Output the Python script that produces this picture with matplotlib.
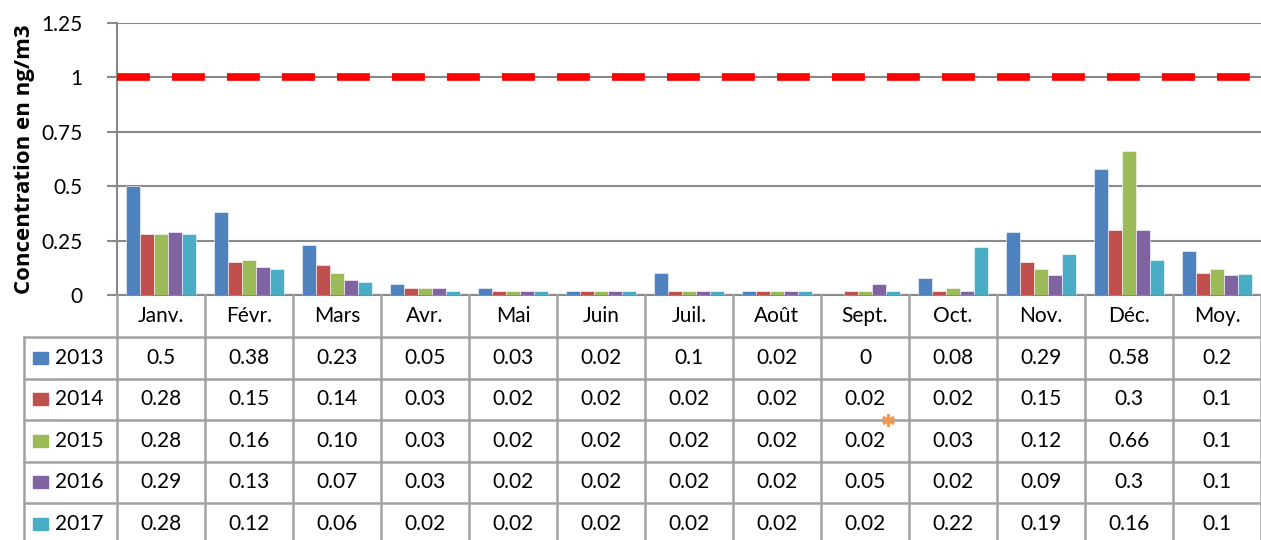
import numpy as np
import matplotlib.pyplot as plt

months = ["Janv.", "Févr.", "Mars", "Avr.", "Mai", "Juin", "Juil.", "Août",
          "Sept.", "Oct.", "Nov.", "Déc.", "Moy."]
years = ["2013", "2014", "2015", "2016", "2017"]

v2013 = [0.5, 0.38, 0.23, 0.05, 0.03, 0.02, 0.1, 0.02, 0, 0.08, 0.29, 0.58, 0.2]
v2014 = [0.28, 0.15, 0.14, 0.03, 0.02, 0.02, 0.02, 0.02, 0.02, 0.02, 0.15, 0.3, 0.1]
v2015 = [0.28, 0.16, 0.10, 0.03, 0.02, 0.02, 0.02, 0.02, 0.02, 0.03, 0.12, 0.66, 0.12]
v2016 = [0.29, 0.13, 0.07, 0.03, 0.02, 0.02, 0.02, 0.02, 0.05, 0.02, 0.09, 0.3, 0.09]
v2017 = [0.28, 0.12, 0.06, 0.02, 0.02, 0.02, 0.02, 0.02, 0.02, 0.22, 0.19, 0.16, 0.095]

# table text as printed in the chart
t2013 = ["0.5", "0.38", "0.23", "0.05", "0.03", "0.02", "0.1", "0.02", "0", "0.08", "0.29", "0.58", "0.2"]
t2014 = ["0.28", "0.15", "0.14", "0.03", "0.02", "0.02", "0.02", "0.02", "0.02", "0.02", "0.15", "0.3", "0.1"]
t2015 = ["0.28", "0.16", "0.10", "0.03", "0.02", "0.02", "0.02", "0.02", "0.02", "0.03", "0.12", "0.66", "0.1"]
t2016 = ["0.29", "0.13", "0.07", "0.03", "0.02", "0.02", "0.02", "0.02", "0.05", "0.02", "0.09", "0.3", "0.1"]
t2017 = ["0.28", "0.12", "0.06", "0.02", "0.02", "0.02", "0.02", "0.02", "0.02", "0.22", "0.19", "0.16", "0.1"]

limit = 1.0

values = [v2013, v2014, v2015, v2016, v2017]
texts = [t2013, t2014, t2015, t2016, t2017]
colors = ["#4F81BD", "#C0504D", "#9BBB59", "#8064A2", "#4BACC6"]

plt.rcParams['font.family'] = ['Lato', 'DejaVu Sans']

W, H = 1261, 540
fig = plt.figure(figsize=(W / 100, H / 100), dpi=100)

# layout in pixels
x0, x1 = 117, 1261
ytop, ybot = 23, 295
head_h = 42
row_h = 41.5
lab_x = 24
grid_c = "#898989"
tab_c = "#A3A3A3"
fs = 15

ax = fig.add_axes([x0 / W, 1 - ybot / H, (x1 - x0) / W, (ybot - ytop) / H])
n = len(months)
x = np.arange(n)
bw = 0.16
for k, (vals, c) in enumerate(zip(values, colors)):
    ax.bar(x + (k - 2) * bw, vals, bw, color=c, edgecolor="white", linewidth=0.4, zorder=3)
ax.axhline(limit, color="#FF0000", lw=5.5, dashes=(4.3, 2.9), zorder=4)
ax.set_xlim(-0.5, n - 0.5)
ax.set_ylim(0, 1.25)
ax.set_yticks([0, 0.25, 0.5, 0.75, 1, 1.25])
ax.set_yticklabels(["0", "0.25", "0.5", "0.75", "1", "1.25"], fontsize=fs)
ax.set_xticks([])
ax.yaxis.grid(True, color=grid_c, lw=1.5, zorder=0)
for s in ["top", "right"]:
    ax.spines[s].set_visible(False)
ax.spines["left"].set_color(grid_c)
ax.spines["bottom"].set_color(grid_c)
ax.spines["left"].set_linewidth(1.5)
ax.spines["bottom"].set_linewidth(1.5)
ax.tick_params(axis="y", length=7, width=1.5, color=grid_c, pad=18)
ax.set_ylabel("Concentration en ng/m3", fontsize=16, fontweight="bold",
              family=["Open Sans", "DejaVu Sans"], labelpad=4)

# data table
tx = fig.add_axes([0, 0, 1, 1])
tx.set_xlim(0, W)
tx.set_ylim(H, 0)
tx.axis("off")
cw = (x1 - x0) / n
y_head = ybot + head_h
y_end = y_head + row_h * len(years)
lw = 1.8
for i in range(n + 1):
    tx.plot([x0 + i * cw] * 2, [ybot, y_end], color=tab_c, lw=lw)
for i, m in enumerate(months):
    tx.text(x0 + (i + 0.5) * cw, ybot + head_h / 2, m, ha="center", va="center", fontsize=fs)
tx.plot([lab_x, lab_x], [y_head, y_end], color=tab_c, lw=lw)
for r in range(len(years) + 1):
    yy = y_head + r * row_h
    tx.plot([lab_x, x1], [yy, yy], color=tab_c, lw=lw)
for r, (yr, c, row) in enumerate(zip(years, colors, texts)):
    yc = y_head + (r + 0.5) * row_h
    tx.add_patch(plt.Rectangle((33, yc - 6), 15, 12, color=c))
    tx.text(55, yc, yr, ha="left", va="center", fontsize=fs)
    for i, s in enumerate(row):
        tx.text(x0 + (i + 0.5) * cw, yc, s, ha="center", va="center", fontsize=fs)
# asterisk marker between the 2014 and 2015 rows
tx.plot(x0 + 8.76 * cw, y_head + 2 * row_h, marker=(6, 2, 0), ms=9, mew=2,
        color="#F79646", zorder=5)

fig.savefig("out.png", dpi=100)
